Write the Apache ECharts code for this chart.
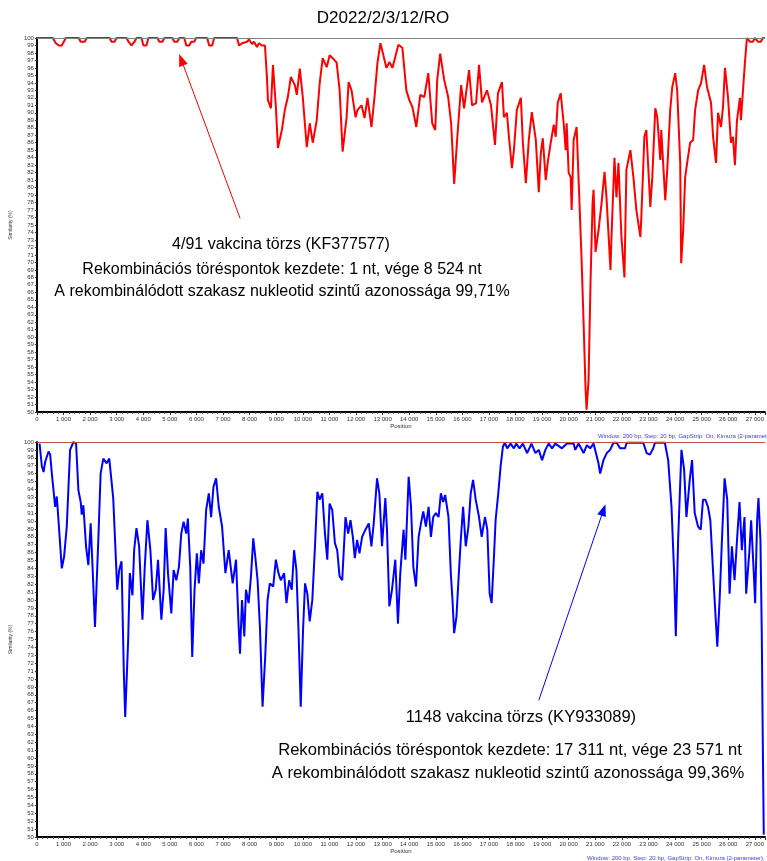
<!DOCTYPE html>
<html><head><meta charset="utf-8">
<script src="https://cdn.jsdelivr.net/npm/echarts@6/dist/echarts.min.js"></script>
<style>html,body{margin:0;padding:0;background:#fff;}#c{width:767px;height:861px;}</style>
</head><body><div id="c"></div>
<script>
const title = 'D2022/2/3/12/RO';
const topPos = [0,599,712,824,936,1011,1086,1573,1648,1798,1873,2734,2809,2921,2996,3371,3445,3558,3670,3745,3932,4007,4120,4194,4531,4606,4719,4794,5093,5168,5280,5355,5543,5618,5730,5805,5917,5992,6404,6479,6591,6666,7527,7602,7715,7790,7902,7977,8089,8164,8276,8351,8464,8576,
8651,8688,8801,8876,8988,9063,9213,9325,9437,9550,9700,9774,9887,9999,10149,10261,10374,10523,10636,10748,10898,11010,11123,11272,11385,11497,11647,11722,11834,11984,12059,12209,12321,12434,12583,12696,12808,12920,13145,13257,13370,13594,13744,13894,14006,14119,14268,14418,14568,14718,14868,14980,15055,15167,15317,15467,15579,15692,15804,15954,16066,16253,16366,16516,16628,16740,16927,17077,17227,17339,
17489,17564,17676,17751,17864,17939,18051,18201,18276,18388,18500,18613,18762,18875,18950,19025,19137,19212,19324,19437,19512,19586,19699,19811,19886,19923,19998,20073,20111,20186,20298,20373,20485,20560,20635,20672,20747,20822,20897,20935,21009,21122,21234,21347,21421,21571,21609,21721,21796,21871,21983,22096,22170,22320,22433,22545,22695,22732,22845,22919,23069,23144,23256,23331,23444,23481,23631,23706,23818,23893,24005,24080,24193,24230,24305,24380,24455,24567,24680,24755,24867,24979,25092,25204,25354,25429,25541,25616,25728,25803,25878,25990,26102,26177,26252,26327,26440,26477,26627,26702,26814,26926,27001,27114,27226,27301,27376];
const topVal = [100,100,99.3,99,99,99.5,100,100,99.5,99.5,100,100,99.5,99.5,100,100,99.5,99,99.5,100,100,99,99,100,100,99.5,99.5,100,100,99.5,99.5,100,100,99,99,99.5,99.5,100,100,99,99,100,100,99,99.3,99.5,99.5,99.8,99.2,99.5,98.8,99.3,99,99,
94.8,91.7,90.6,96.4,90.8,85.3,87.7,90.4,92.1,94.8,93.7,92.4,95.9,92.1,85.4,88.6,86,89,94,97.3,96.1,97.7,97.3,96.7,93,84.8,89.4,94.1,93,89.4,90.4,91,89.3,92,88.1,92.1,96.7,99.3,96,96.8,96,99.1,98.7,93,91.7,90.8,88.1,92.4,92.1,95.3,88.6,87.7,94.4,97.9,94.4,92.1,88.6,80.5,86.4,93.7,90.6,95.7,91,91.3,96.4,91.4,93,91,85.7,92.6,
94.1,89.4,90,86.8,82.6,85,90.4,92,86,80.6,86.4,90.1,86.4,79.4,84.6,86.6,81,83.4,86,88.4,86.8,91.3,92.6,88.6,85,88.6,82,81.4,77,86.4,88.1,81,70.3,61.9,52.9,50.3,54.3,67.6,77.9,79.7,71.4,74.3,77.9,82.1,78.7,69,73.4,84,78.7,83.3,73.4,68,82.4,85,81.4,77,73.4,76.1,86.8,87.7,77.4,81.4,90.6,89.4,83.7,87.7,78.3,82.4,90.4,93.4,95.3,93,83.3,69.9,74.3,81.4,83.3,86,86.4,90.4,93,94,96.4,93.4,91.3,86.8,83.3,90,88.1,90.8,96,92.1,86,86.8,83,89,92,89,96.7,100,99.5,99.5,100,99.5,99.5,100,100];

const botPos = [100,187,250,312,437,499,562,686,749,811,936,1023,1123,1248,1373,1473,1560,1647,1685,1747,1847,1934,2022,2097,2184,2309,2396,2496,2621,2721,2870,3020,3095,3182,3270,3320,3432,3494,3594,3657,3744,3844,3969,4056,4156,4268,4368,4468,4555,4680,4767,4842,4930,5054,5142,5242,5341,5429,5516,5616,5678,5766,5841,5928,6015,6090,6178,6265,6365,6465,6552,6639,6739,6839,6964,7089,7213,7363,7488,7588,7638,7713,7800,7862,7962,8050,8137,8212,8299,8387,8486,8586,8674,8761,8886,8986,9085,9173,9298,9385,9485,9585,9672,9759,9834,9922,10009,10084,10171,10259,10358,10458,10546,10633,10733,10833,10920,11007,11107,11207,11294,11382,11482,11606,11706,11794,11881,11956,12043,12131,12230,12355,12480,12580,12667,12792,12879,12979,13104,13166,13254,13354,13478,13578,13666,13790,
13857,13981,14069,14156,14256,14356,14443,14531,14630,14730,14818,14905,15005,15105,15192,15279,15354,15479,15566,15629,15691,15779,15853,15941,16028,16128,16228,16315,16403,16502,16627,16727,16852,16939,17027,17101,17189,17251,17351,17438,17526,17601,17688,17813,17938,18025,18150,18275,18437,18599,18749,18874,18998,19123,19248,19373,19498,19747,19934,20184,20246,20371,20558,20683,20808,20933,20995,21120,21182,21307,21432,21557,21682,21806,21931,22118,22181,22805,22930,23055,23179,23242,23616,23741,23866,23965,24028,24115,24240,24340,24427,24552,24639,24739,24864,24964,25051,25139,25238,25326,25426,25488,25588,25675,25763,25862,25962,26050,26137,26237,26337,26424,26511,26611,26674,26798,26861,26961,27011,27086,27136,27211,27261,27298,27336];
const botVal = [99.8,96.9,96.2,97.5,98.8,98.4,96.0,91.8,93.1,90.1,84.0,85.5,89.3,99.0,100,99.8,93.9,92.4,90.8,92.0,86.8,84.4,89.7,83.8,76.6,87.6,96.0,97.9,97.3,97.9,92.9,81.3,83.8,84.9,70.7,65.2,74.9,83.4,80.6,86.3,89.1,86.8,77.5,84.2,90.1,86.3,80.0,81.3,85.1,77.5,81.3,89.1,83.4,78.3,83.8,82.5,84.2,88.4,89.9,88.4,90.3,84.2,72.8,81.3,85.9,82.1,86.3,84.6,91.4,93.5,90.5,94.3,95.4,91.8,89.3,83.4,86.3,82.1,85.1,76.6,73.2,80.0,75.4,81.3,79.6,83.0,87.8,85.5,82.5,76.6,66.5,72.8,80.0,82.1,81.7,85.1,83.4,82.5,83.4,79.6,82.5,81.3,86.3,83.8,76.6,66.5,76.2,82.1,80.8,77.3,80.0,86.8,93.7,92.7,93.5,88.4,85.1,92.2,91.4,87.2,86.3,83.0,82.5,90.5,88.4,90.1,88.0,85.3,87.6,85.9,88.0,88.9,89.7,86.8,89.7,95.4,93.5,86.8,92.9,88.9,79.2,81.3,85.1,77.0,83.4,88.9,
85.1,95.6,91.8,84.2,81.7,88.0,89.7,91.2,89.3,91.8,88.0,90.5,91.0,90.5,93.5,92.4,93.3,90.5,83.4,80.0,75.8,77.9,82.5,87.6,91.8,86.8,89.3,93.5,95.2,92.7,90.5,88.0,90.5,88.9,80.8,79.6,85.5,90.1,93.5,96.9,99.4,99.9,99.2,99.8,99.2,99.8,99.2,99.8,98.6,99.8,98.6,99.0,97.7,99.0,99.8,99.2,99.8,99.2,99.8,99.8,99.0,99.8,98.6,99.6,99.2,99.8,99.0,97.3,96.0,97.7,98.6,99.0,99.9,99.9,99.2,99.2,99.9,99.9,98.6,98.4,99.2,99.9,99.9,97.7,91.8,83.4,75.4,87.6,99.0,96.5,90.5,95.2,97.7,91.0,89.3,88.9,92.7,92.7,91.8,90.1,83.8,80.0,74.1,80.0,87.6,95.4,92.7,80.8,86.8,82.5,88.0,92.4,86.3,90.5,80.8,86.3,90.1,83.4,79.6,90.1,92.9,87.6,75.8,62.3,50.3];

const topArrow = [[7640, 75.9], [5430, 97.1]];
const botArrow = [[18875, 67.3], [21309, 91.4]];
const topNotes = ['4/91 vakcina törzs (KF377577)', 'Rekombinációs töréspontok kezdete: 1 nt, vége 8 524 nt', 'A rekombinálódott szakasz nukleotid szintű azonossága 99,71%'];
const botNotes = ['1148 vakcina törzs (KY933089)', 'Rekombinációs töréspontok kezdete: 17 311 nt, vége 23 571 nt', 'A rekombinálódott szakasz nukleotid szintű azonossága 99,36%'];
const footer = 'Window: 200 bp, Step: 20 bp, GapStrip: On, Kimura (2-parameter), T/t: 2,0';

const pair = (xs, ys) => xs.map((x, i) => [x, ys[i]]);
const fmtX = v => (v % 1000 === 0) ? String(v).replace(/\B(?=(\d{3})+(?!\d))/g, ' ') : '';
const F = '"Liberation Sans", Arial, sans-serif';

function xAx(gi) {
  return {
    gridIndex: gi, type: 'value', min: 0, max: 27380, interval: 1000,
    name: 'Position', nameLocation: 'middle', nameGap: 11,
    nameTextStyle: { fontSize: 6, color: '#333', fontFamily: F },
    axisLine: { lineStyle: { color: '#000', width: 2 } },
    axisTick: { length: 3, lineStyle: { color: '#333' } },
    minorTick: { show: true, splitNumber: 5, length: 2, lineStyle: { color: '#555' } },
    splitLine: { show: false },
    axisLabel: { formatter: fmtX, fontSize: 6, color: '#333', margin: 4, fontFamily: F, showMaxLabel: false }
  };
}
function yAx(gi) {
  return {
    gridIndex: gi, type: 'value', min: 50, max: 100, interval: 1,
    name: 'Similarity (%)', nameLocation: 'middle', nameGap: 12, nameRotate: 90,
    nameTextStyle: { fontSize: 5, color: '#333', fontFamily: F },
    axisLine: { show: true, lineStyle: { color: '#000', width: 2 } },
    axisTick: { show: true, length: 2, lineStyle: { color: '#333' } },
    splitLine: { show: false },
    axisLabel: { fontSize: 6, color: '#333', margin: 3, fontFamily: F }
  };
}
function lineSeries(gi, data, color, border, arrow) {
  return {
    type: 'line', xAxisIndex: gi, yAxisIndex: gi, data: data, showSymbol: false,
    lineStyle: { color: color, width: 2 }, z: 3, animation: false,
    markLine: {
      silent: true, symbol: ['none', 'none'], label: { show: false }, animation: false,
      data: [
        [{ coord: [0, 100], lineStyle: { color: border, width: 1, type: 'solid' } }, { coord: [27380, 100] }],
        [{ coord: arrow[0], symbol: 'none', lineStyle: { color: color, width: 1, type: 'solid' } }, { coord: arrow[1], symbol: 'triangle', symbolSize: [9, 12] }]
      ]
    }
  };
}
const textEl = (x, y, t, size, color, align) => ({
  type: 'text', x: x, y: y,
  style: { text: t, font: size + 'px ' + F, fill: color, textAlign: align || 'center', textVerticalAlign: 'middle' }
});

const chart = echarts.init(document.getElementById('c'), null, { renderer: 'canvas' });
chart.setOption({
  animation: false,
  backgroundColor: '#fff',
  grid: [
    { left: 36, top: 38, width: 731, height: 374 },
    { left: 36, top: 442, width: 731, height: 395 }
  ],
  xAxis: [xAx(0), xAx(1)],
  yAxis: [yAx(0), yAx(1)],
  series: [
    lineSeries(0, pair(topPos, topVal), '#ff0000', '#808080', topArrow),
    lineSeries(1, pair(botPos, botVal), '#0000ff', '#c0504d', botArrow)
  ],
  graphic: [
    textEl(383, 18, title, 17, '#000'),
    textEl(281, 245, topNotes[0], 16, '#000'),
    textEl(282, 270, topNotes[1], 16, '#000'),
    textEl(282, 292, topNotes[2], 16, '#000'),
    textEl(521, 717, botNotes[0], 16.6, '#000'),
    textEl(510, 750, botNotes[1], 16.6, '#000'),
    textEl(508, 773, botNotes[2], 16.6, '#000'),
    textEl(598, 436, footer, 6, '#3a3aff', 'left'),
    textEl(587, 858, footer, 6, '#3a3aff', 'left')
  ]
});
</script></body></html>
